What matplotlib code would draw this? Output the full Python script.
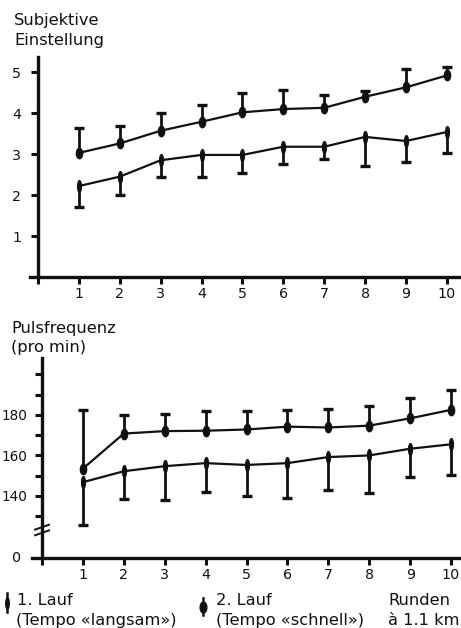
import numpy as np
import matplotlib
matplotlib.use("Agg")
import matplotlib.pyplot as plt
from matplotlib.path import Path
from matplotlib.transforms import Affine2D, blended_transform_factory
from matplotlib.lines import Line2D

# Runden (je 1.1 km)
runden = [1, 2, 3, 4, 5, 6, 7, 8, 9, 10]

# Subjektive Einstellung
einst_schnell = [3.03, 3.26, 3.57, 3.79, 4.02, 4.10, 4.13, 4.40, 4.63, 4.92]
einst_schnell_hi = [3.63, 3.68, 4.01, 4.21, 4.50, 4.56, 4.45, 4.54, 5.07, 5.12]
einst_langsam = [2.22, 2.45, 2.85, 2.98, 2.98, 3.18, 3.18, 3.42, 3.32, 3.54]
einst_langsam_lo = [1.70, 2.00, 2.43, 2.45, 2.55, 2.75, 2.88, 2.72, 2.81, 3.02]

# Pulsfrequenz (pro min)
puls_schnell = [153.5, 170.8, 172.0, 172.2, 172.8, 174.2, 173.8, 174.7, 178.3, 182.5]
puls_schnell_hi = [182.2, 180.0, 180.5, 181.7, 181.7, 182.5, 182.8, 184.2, 188.3, 192.5]
puls_langsam = [146.8, 152.2, 154.7, 156.2, 155.3, 156.2, 159.2, 160.0, 163.3, 165.5]
puls_langsam_lo = [125.5, 138.3, 137.8, 142.0, 140.0, 138.8, 143.0, 141.7, 149.2, 150.5]

einst_ticks = [1, 2, 3, 4, 5]
puls_ticks = [130, 140, 150, 160, 170, 180, 190, 200]
puls_labels = ["", "140", "", "160", "", "180", "", ""]
PULS_ZERO = 109.4  # where the broken axis shows "0"

INK = "#111111"
oval_wide = Path.unit_circle().transformed(Affine2D().scale(0.6, 1.0))
oval_thin = Path.unit_circle().transformed(Affine2D().scale(0.32, 1.0))

plt.rcParams["font.family"] = ["DejaVu Sans"]
fig = plt.figure(figsize=(4.61, 6.28), dpi=100)
fig.patch.set_facecolor("white")


def series(ax, x, y, ends, marker, ms):
    ax.vlines(x, y, ends, color=INK, lw=2.0, zorder=2)
    ax.plot(x, ends, ls="none", marker="_", ms=7, mew=2.4, color=INK, zorder=2)
    ax.plot(x, y, color=INK, lw=1.6, zorder=3)
    ax.plot(x, y, ls="none", marker=marker, ms=ms, color=INK, zorder=4)


def style(ax):
    for s in ["top", "right"]:
        ax.spines[s].set_visible(False)
    ax.spines["left"].set_position(("data", 0))
    for s in ["left", "bottom"]:
        ax.spines[s].set_linewidth(2.4)
        ax.spines[s].set_color(INK)
    ax.tick_params(direction="out", length=5, width=2.2, color=INK,
                   labelsize=10.3, labelcolor=INK)
    ax.tick_params(axis="y", pad=7)
    ax.tick_params(axis="x", pad=2)
    ax.set_xticks([0] + runden)
    ax.set_xticklabels([""] + [str(r) for r in runden])
    ax.patch.set_alpha(0)


# top panel
ax1 = fig.add_axes([0.0646, 0.5589, 0.958, 0.3503])
series(ax1, runden, einst_schnell, einst_schnell_hi, oval_wide, 7.5)
series(ax1, runden, einst_langsam, einst_langsam_lo, oval_thin, 8.5)
ax1.set_xlim(-0.2, 10.6)
ax1.set_ylim(0, 5.37)
ax1.set_yticks(einst_ticks)
style(ax1)

# bottom panel
ax2 = fig.add_axes([0.0694, 0.1115, 0.9622, 0.3185])
series(ax2, runden, puls_schnell, puls_schnell_hi, oval_wide, 7.5)
series(ax2, runden, puls_langsam, puls_langsam_lo, oval_thin, 8.5)
ax2.set_xlim(-0.245, 10.6)
ax2.set_ylim(PULS_ZERO, 208.1)
ax2.set_yticks(puls_ticks)
ax2.set_yticklabels(puls_labels)
style(ax2)
ax2.tick_params(axis="y", pad=5.6, labelsize=9.8)
tr = blended_transform_factory(ax2.transAxes, ax2.transData)
ax2.text(-0.034, PULS_ZERO, "0", transform=tr, ha="center", va="center",
         fontsize=10.3, color=INK)
for yb in (121.8, 124.6):
    ax2.plot([-0.17, 0.17], [yb - 1.2, yb + 1.2], color=INK, lw=1.4,
             clip_on=False, zorder=5)

# axis titles
lab = dict(fontsize=11.7, color=INK, va="baseline", ha="left")
W, H = 461.0, 628.0
for txt, x, y in [("Subjektive", 14, 25), ("Einstellung", 14, 45),
                  ("Pulsfrequenz", 11, 333), ("(pro min)", 11, 352),
                  ("1. Lauf", 17, 605), ("(Tempo «langsam»)", 16, 625),
                  ("2. Lauf", 216, 605), ("(Tempo «schnell»)", 216, 625),
                  ("Runden", 388, 605), ("à 1.1 km", 388, 625)]:
    fig.text(x / W, 1 - y / H, txt, **lab)

# legend symbols
for x, y0, y1, mk in [(7, 593, 612, oval_thin), (203, 598, 615, oval_wide)]:
    fig.add_artist(Line2D([x / W, x / W], [1 - y0 / H, 1 - y1 / H],
                          color=INK, lw=1.8, transform=fig.transFigure))
    fig.add_artist(Line2D([x / W], [1 - (y0 + y1) / 2 / H], ls="none",
                          marker=mk, ms=8, color=INK,
                          transform=fig.transFigure))

fig.savefig("out.png", dpi=100)
